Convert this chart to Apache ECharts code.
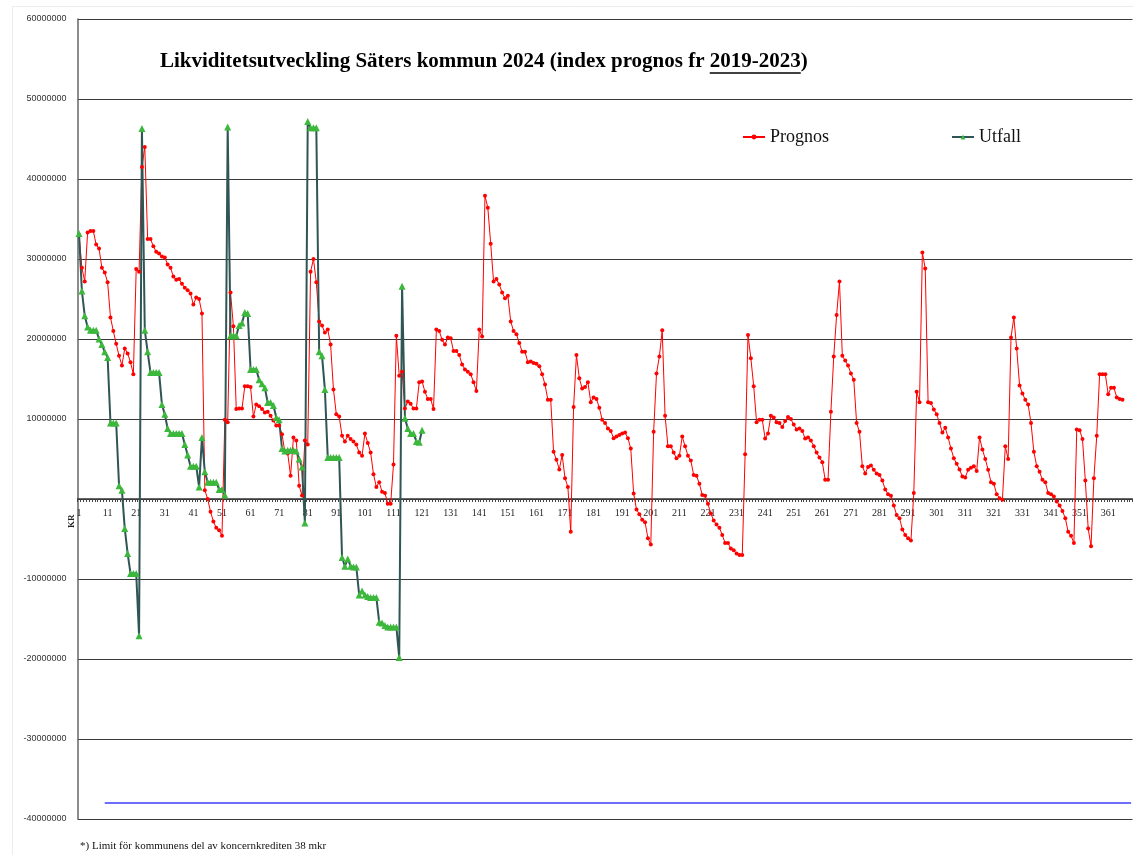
<!DOCTYPE html>
<html>
<head>
<meta charset="utf-8">
<script src="https://cdn.jsdelivr.net/npm/echarts@6/dist/echarts.min.js"></script>
<style>
  html, body { margin: 0; padding: 0; background: #fff; }
  #chart { width: 1133px; height: 855px; }
</style>
</head>
<body>
<div id="chart"></div>
<script>
// dagar 1..366 (2024), plus några tomma kategorier som i originalets utsnitt
const dayLabels = [];
for (let d = 1; d <= 366; d++) dayLabels.push(String(d));
dayLabels.push('', '', '');

// Prognos (kr)
const prognos = [
  33000000, 28900000, 27200000, 33300000, 33500000, 33500000, 31800000, 31300000, 28900000, 28300000,
  27100000, 22700000, 21000000, 19400000, 17900000, 16700000, 18800000, 18200000, 17100000, 15600000,
  28750000, 28400000, 41500000, 44000000, 32500000, 32500000, 31600000, 30900000, 30700000, 30300000,
  30200000, 29300000, 28900000, 27800000, 27400000, 27500000, 26900000, 26400000, 26100000, 25700000,
  24300000, 25200000, 25000000, 23200000, 1100000, 0, -1600000, -2800000, -3600000, -3900000,
  -4600000, 9900000, 9600000, 25800000, 21600000, 11250000, 11300000, 11300000, 14100000, 14100000,
  14000000, 10300000, 11800000, 11600000, 11250000, 10800000, 10900000, 10400000, 9800000, 9200000,
  9200000, 8100000, 5900000, 5700000, 2900000, 7700000, 7300000, 1650000, 450000, 7300000,
  6800000, 28400000, 30000000, 27100000, 22200000, 21700000, 20800000, 21200000, 19300000, 13700000,
  10600000, 10300000, 7900000, 7200000, 7900000, 7500000, 7200000, 6800000, 5800000, 5400000,
  8200000, 7000000, 5800000, 3100000, 1500000, 2100000, 900000, 760000, -600000, -600000,
  4300000, 20400000, 15400000, 15900000, 11300000, 12200000, 11900000, 11300000, 11300000, 14600000,
  14700000, 13400000, 12500000, 12500000, 11250000, 21200000, 21000000, 19900000, 19300000, 20200000,
  20100000, 18500000, 18500000, 18000000, 16800000, 16200000, 15900000, 15600000, 14600000, 13500000,
  21200000, 20300000, 37900000, 36400000, 31900000, 27200000, 27500000, 26800000, 25800000, 25100000,
  25400000, 22200000, 21000000, 20600000, 19500000, 18400000, 18400000, 17100000, 17200000, 17000000,
  16900000, 16600000, 15600000, 14300000, 12400000, 12400000, 5900000, 4900000, 3700000, 5500000,
  2600000, 1500000, -4100000, 11500000, 18000000, 15100000, 13800000, 14000000, 14600000, 12100000,
  12700000, 12500000, 11400000, 9900000, 9500000, 8800000, 8500000, 7600000, 7800000, 8000000,
  8200000, 8300000, 7600000, 6300000, 700000, -1300000, -1900000, -2600000, -2900000, -4900000,
  -5700000, 8400000, 15700000, 17800000, 21100000, 10400000, 6600000, 6600000, 5800000, 5100000,
  5400000, 7800000, 6600000, 5400000, 4800000, 3000000, 2900000, 1900000, 500000, 400000,
  -600000, -1800000, -2700000, -3200000, -3600000, -4500000, -5500000, -5500000, -6200000, -6400000,
  -6800000, -7000000, -7000000, 5600000, 20500000, 17600000, 14100000, 9600000, 9900000, 9900000,
  7550000, 8200000, 10400000, 10200000, 9600000, 9500000, 9000000, 9750000, 10250000, 10000000,
  9300000, 8700000, 8800000, 8500000, 7550000, 7700000, 7300000, 6600000, 5800000, 5200000,
  4600000, 2400000, 2400000, 10900000, 17800000, 23000000, 27200000, 17900000, 17300000, 16700000,
  15700000, 14900000, 9500000, 8400000, 4100000, 3200000, 4000000, 4200000, 3650000, 3200000,
  3000000, 2300000, 1200000, 600000, 400000, -800000, -2000000, -2400000, -3800000, -4500000,
  -4900000, -5200000, 750000, 13400000, 12100000, 30800000, 28800000, 12100000, 12000000, 11200000,
  10600000, 9500000, 8300000, 8900000, 7700000, 6300000, 5100000, 4400000, 3700000, 2800000,
  2700000, 3650000, 3900000, 4100000, 3500000, 7700000, 6200000, 5000000, 3650000, 2100000,
  1900000, 600000, 100000, -100000, 6600000, 5000000, 20200000, 22700000, 18800000, 14200000,
  13200000, 12400000, 11800000, 9500000, 5900000, 4100000, 3400000, 2400000, 2100000, 750000,
  600000, 300000, -300000, -800000, -1500000, -2400000, -4100000, -4600000, -5500000, 8700000,
  8600000, 7500000, 2300000, -3700000, -5900000, 2600000, 7900000, 15600000, 15600000, 15600000,
  13100000, 13900000, 13900000, 12700000, 12500000, 12400000
];

// Utfall (kr), dag 1..121
const utfall = [
  33200000, 26000000, 22900000, 21500000, 21100000, 21100000, 21100000, 20000000, 19300000, 18400000,
  17700000, 9500000, 9500000, 9500000, 1650000, 1100000, -3700000, -6800000, -9300000, -9300000,
  -9300000, -17100000, 46300000, 21100000, 18400000, 15800000, 15800000, 15800000, 15800000, 11800000,
  10600000, 8800000, 8200000, 8200000, 8200000, 8200000, 8200000, 6800000, 5500000, 4100000,
  4100000, 4100000, 1500000, 7700000, 3400000, 2100000, 2100000, 2100000, 2100000, 1200000,
  1200000, 500000, 46500000, 20400000, 20400000, 20400000, 21700000, 22000000, 23300000, 23200000,
  16200000, 16200000, 16200000, 14900000, 14400000, 13900000, 12050000, 12050000, 11700000, 10200000,
  9900000, 6300000, 6000000, 6100000, 6100000, 6100000, 6000000, 5000000, 4000000, -3000000,
  47200000, 46400000, 46400000, 46400000, 18400000, 17900000, 13700000, 5200000, 5200000, 5200000,
  5200000, 5200000, -7300000, -8400000, -7500000, -8400000, -8500000, -8500000, -12000000, -11500000,
  -12000000, -12200000, -12300000, -12300000, -12300000, -15400000, -15500000, -15800000, -16000000, -16000000,
  -16000000, -16000000, -19800000, 26600000, 10100000, 8800000, 8200000, 8200000, 7200000, 7100000,
  8600000
];

// limit för koncernkrediten
const limitValue = -38000000;
const limitStartIndex = 9;   // dag 10
const limitEndIndex = 368;

const yTicks = { min: -40000000, max: 60000000, step: 10000000 };

const titleA = 'Likviditetsutveckling Säters kommun 2024 (index prognos fr ';
const titleB = '2019-2023';
const titleC = ')';
const footnote = '*) Limit för kommunens del av koncernkrediten 38 mkr';

const serif = '"Liberation Serif", "Times New Roman", serif';
const titleFont = 'bold 21px ' + serif;

// mät titeldelarna för understrykningen
const mctx = document.createElement('canvas').getContext('2d');
mctx.font = titleFont;
const wA = mctx.measureText(titleA).width;
const wB = mctx.measureText(titleB).width;
const titleX = 160;
const titleY = 51;

// plotytan
const gridTop = 19;
const gridBottom = 36;
const gridHeight = 855 - gridTop - gridBottom;
// kategoriaxeln ligger vid y = 0
const xAxisOffset = -gridHeight * (0 - yTicks.min) / (yTicks.max - yTicks.min);

const chart = echarts.init(document.getElementById('chart'));

const option = {
  animation: false,
  backgroundColor: '#fff',
  grid: { left: 77.6, right: 0.5, top: gridTop, bottom: gridBottom, containLabel: false },
  legend: {
    data: ['Prognos', 'Utfall'],
    left: 737,
    top: 123,
    itemWidth: 22,
    itemHeight: 6,
    itemGap: 122,
    textStyle: { fontFamily: serif, fontSize: 18, color: '#111' }
  },
  xAxis: {
    type: 'category',
    data: dayLabels,
    boundaryGap: true,
    position: 'bottom',
    offset: xAxisOffset,
    axisLine: { onZero: false, lineStyle: { color: '#333', width: 1.5 } },
    axisTick: { show: true, interval: 0, length: 3, lineStyle: { color: '#444' } },
    axisLabel: { interval: 9, fontFamily: serif, fontSize: 10, color: '#222', margin: 9 },
    splitLine: { show: false }
  },
  yAxis: {
    type: 'value',
    min: yTicks.min,
    max: yTicks.max,
    interval: yTicks.step,
    axisLine: { show: true, lineStyle: { color: '#666', width: 1.5 } },
    axisTick: { show: false },
    axisLabel: {
      fontFamily: '"Liberation Sans", Arial, sans-serif',
      fontSize: 9,
      color: '#333',
      margin: 11,
      formatter: v => (v === 0 ? '' : String(v))
    },
    splitLine: { show: true, lineStyle: { color: '#3a3a3a', width: 1.2 } }
  },
  series: [
    {
      name: 'Prognos',
      type: 'line',
      data: prognos,
      symbol: 'circle',
      symbolSize: 4,
      showAllSymbol: true,
      lineStyle: { color: '#ff0000', width: 1 },
      itemStyle: { color: '#ff0000' },
      markLine: {
        silent: true,
        symbol: 'none',
        label: { show: false },
        lineStyle: { color: '#3c3cff', width: 1.5, type: 'solid' },
        data: [[{ coord: [limitStartIndex, limitValue] }, { coord: [limitEndIndex, limitValue] }]]
      }
    },
    {
      name: 'Utfall',
      type: 'line',
      data: utfall,
      symbol: 'triangle',
      symbolSize: 7,
      showAllSymbol: true,
      lineStyle: { color: '#2f5555', width: 2 },
      itemStyle: { color: '#3cb83c' }
    }
  ],
  graphic: [
    {
      type: 'rect',
      shape: { x: 12.5, y: 6.5, width: 1130, height: 860 },
      style: { fill: 'none', stroke: '#ececec', lineWidth: 1 },
      silent: true
    },
    {
      type: 'text', x: titleX, y: titleY,
      style: { text: titleA, font: titleFont, fill: '#000' }
    },
    {
      type: 'text', x: titleX + wA, y: titleY,
      style: { text: titleB, font: titleFont, fill: '#000' }
    },
    {
      type: 'text', x: titleX + wA + wB, y: titleY,
      style: { text: titleC, font: titleFont, fill: '#000' }
    },
    {
      type: 'line',
      shape: { x1: titleX + wA, y1: titleY + 22, x2: titleX + wA + wB, y2: titleY + 22 },
      style: { stroke: '#000', lineWidth: 1.3 }
    },
    {
      type: 'text', x: 67, y: 528, rotation: Math.PI / 2,
      style: { text: 'KR', font: 'bold 9px ' + serif, fill: '#222' }
    },
    {
      type: 'text', x: 80, y: 841,
      style: { text: footnote, font: '11px ' + serif, fill: '#111' }
    }
  ]
};

chart.setOption(option);
</script>
</body>
</html>
